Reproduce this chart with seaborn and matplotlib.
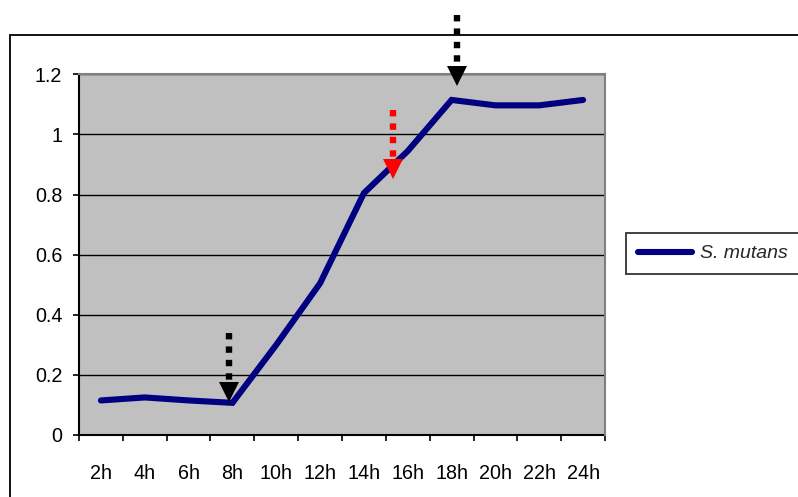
import matplotlib
matplotlib.use("Agg")
import matplotlib.pyplot as plt
import matplotlib.transforms as mtransforms
from matplotlib.patches import Rectangle
import seaborn as sns
import pandas as pd
import numpy as np

hours = ["2h", "4h", "6h", "8h", "10h", "12h", "14h", "16h", "18h", "20h", "22h", "24h"]
od_values = [0.115, 0.125, 0.115, 0.107, 0.30, 0.505, 0.805, 0.945, 1.115, 1.097, 1.097, 1.115]
series_name = "S. mutans"
y_ticks = [0, 0.2, 0.4, 0.6, 0.8, 1.0, 1.2]
y_tick_labels = ["0", "0.2", "0.4", "0.6", "0.8", "1", "1.2"]

# annotation arrows: (x position in category units, y of tail, y of tip, colour)
arrow_x = [2.92, 6.67, 8.12]
arrow_tail = [0.34, 1.082, 1.397]
arrow_tip = [0.114, 0.854, 1.166]
arrow_colors = ["black", "red", "black"]

sns.set_theme(style="white")
plt.rcParams["font.family"] = ["Liberation Sans", "DejaVu Sans"]

df = pd.DataFrame({"hour": hours, "od": od_values, "series": series_name})

fig = plt.figure(figsize=(7.98, 4.97), dpi=100)
fig.patch.set_facecolor("white")
ax = fig.add_axes([79 / 798, 1 - 435 / 497, 526 / 798, (435 - 74.4) / 497])
ax.set_facecolor("#c0c0c0")

sns.lineplot(data=df, x="hour", y="od", hue="series", palette=["#000080"],
             sort=False, linewidth=4.4, ax=ax, legend=True, zorder=3)
for ln in ax.get_lines():
    ln.set_solid_capstyle("round")
    ln.set_solid_joinstyle("miter")

ax.set_xlim(-0.5, len(hours) - 0.5)
ax.set_ylim(0, 1.2)
ax.set_yticks(y_ticks)
ax.set_yticklabels(y_tick_labels, fontsize=14.2)
ax.set_xticks(np.arange(len(hours)))
ax.set_xticklabels(hours, fontsize=14.2)
ax.set_xticks(np.arange(len(hours) + 1) - 0.5, minor=True)
ax.set_xlabel("")
ax.set_ylabel("")

ax.tick_params(axis="x", which="major", length=0, pad=21, colors="black")
ax.tick_params(axis="x", which="minor", length=4, width=1.2, direction="out", color="black", bottom=True)
ax.tick_params(axis="y", which="major", length=4, width=1.2, direction="out", pad=8,
               colors="black", left=True)

ax.yaxis.grid(True, color="black", linewidth=1.0)
ax.xaxis.grid(False)
ax.set_axisbelow(True)

for side in ["left", "bottom"]:
    ax.spines[side].set_color("black")
    ax.spines[side].set_linewidth(1.5)
for side in ["top", "right"]:
    ax.spines[side].set_color("#808080")
    ax.spines[side].set_linewidth(1.5)
    ax.spines[side].set_zorder(4)

# dotted arrows: dotted shaft ending at the head base, triangular head at the tip
head_px = 18.0
px_to_data = 1.2 / (435 - 74.4)
head_off = mtransforms.offset_copy(ax.transData, fig=fig, x=0, y=head_px / 2, units="dots")
for x, yt, yh, c in zip(arrow_x, arrow_tail, arrow_tip, arrow_colors):
    ax.plot([x, x], [yt, yh + head_px * px_to_data], color=c, linewidth=4.6,
            linestyle=(0, (1, 1.1)), dash_capstyle="butt", clip_on=False, zorder=5)
    ax.plot([x], [yh], marker="v", markersize=14, color=c, markeredgewidth=0,
            linestyle="none", transform=head_off, clip_on=False, zorder=6)

# legend
handles, labels = ax.get_legend_handles_labels()
leg = ax.legend(handles, labels, loc="center left", bbox_to_anchor=(626 / 798, 1 - 253.5 / 497),
                bbox_transform=fig.transFigure, frameon=True, fancybox=False,
                borderaxespad=0, handlelength=2.8, handletextpad=0.4, borderpad=0.6,
                prop={"style": "italic", "size": 14, "family": ["Liberation Sans"]})
leg.get_frame().set_edgecolor("black")
leg.get_frame().set_linewidth(1.3)
for h in leg.get_lines():
    h.set_linewidth(4.4)
    h.set_solid_capstyle("round")

# outer chart border
fig.patches.append(Rectangle((9.5 / 798, -0.05), 1.0, 1 - 35 / 497 + 0.05,
                             transform=fig.transFigure, fill=False, edgecolor="black",
                             linewidth=1.3, zorder=0))

fig.savefig("out.png", dpi=100, facecolor="white")
